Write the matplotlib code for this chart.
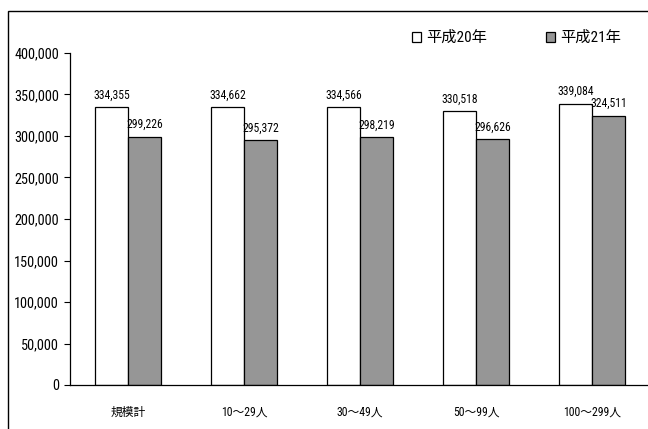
import numpy as np
import matplotlib.pyplot as plt
from matplotlib.patches import Rectangle
from matplotlib.ticker import FuncFormatter

# narrow latin font first, CJK fallback
plt.rcParams['font.family'] = ['Roboto Condensed', 'Noto Sans CJK JP', 'DejaVu Sans']

categories = ['規模計', '10～29人', '30～49人', '50～99人', '100～299人']
series_names = ['平成20年', '平成21年']
h20 = [334355, 334662, 334566, 330518, 339084]
h21 = [299226, 295372, 298219, 296626, 324511]

fig = plt.figure(figsize=(6.48, 4.29), dpi=100)
ax = fig.add_axes([70 / 648, 1 - 385 / 429, 580 / 648, 332 / 429])

x = np.arange(len(categories))
w = 0.285
b1 = ax.bar(x - w / 2, h20, w, color='white', edgecolor='black', linewidth=0.9, label=series_names[0])
b2 = ax.bar(x + w / 2, h21, w, color='#969696', edgecolor='black', linewidth=0.9, label=series_names[1])

for bars, vals in ((b1, h20), (b2, h21)):
    for r, v in zip(bars, vals):
        ax.text(r.get_x() + r.get_width() / 2, v + 6500, f'{v:,}',
                ha='center', va='bottom', fontsize=8.4)

ax.set_xlim(-0.5, len(categories) - 0.5)
ax.set_ylim(0, 400000)
ax.set_yticks(np.arange(0, 400001, 50000))
ax.yaxis.set_major_formatter(FuncFormatter(lambda v, p: f'{int(v):,}'))
ax.set_xticks(x)
ax.set_xticklabels(categories, fontsize=8.5)
ax.tick_params(axis='x', length=0, pad=15)
ax.tick_params(axis='y', length=4, width=0.8, direction='out', pad=4, labelsize=10.3)
ax.spines['top'].set_visible(False)
ax.spines['right'].set_visible(False)
ax.spines['left'].set_linewidth(0.9)
ax.spines['bottom'].set_linewidth(0.9)

fig.legend(handles=[b1, b2], labels=series_names, loc='center left',
           bbox_to_anchor=(412 / 648, 1 - 38 / 429), ncol=2, frameon=False,
           handlelength=0.6, handleheight=0.6, handletextpad=0.3,
           columnspacing=3.9, fontsize=11, borderpad=0, borderaxespad=0)

# outer chart frame
fig.patches.append(Rectangle((8 / 648, -0.1), 1.1, 1.1 - 11 / 429,
                             transform=fig.transFigure, fill=False,
                             edgecolor='black', linewidth=1.0, clip_on=False))

fig.savefig('out.png', dpi=100)
